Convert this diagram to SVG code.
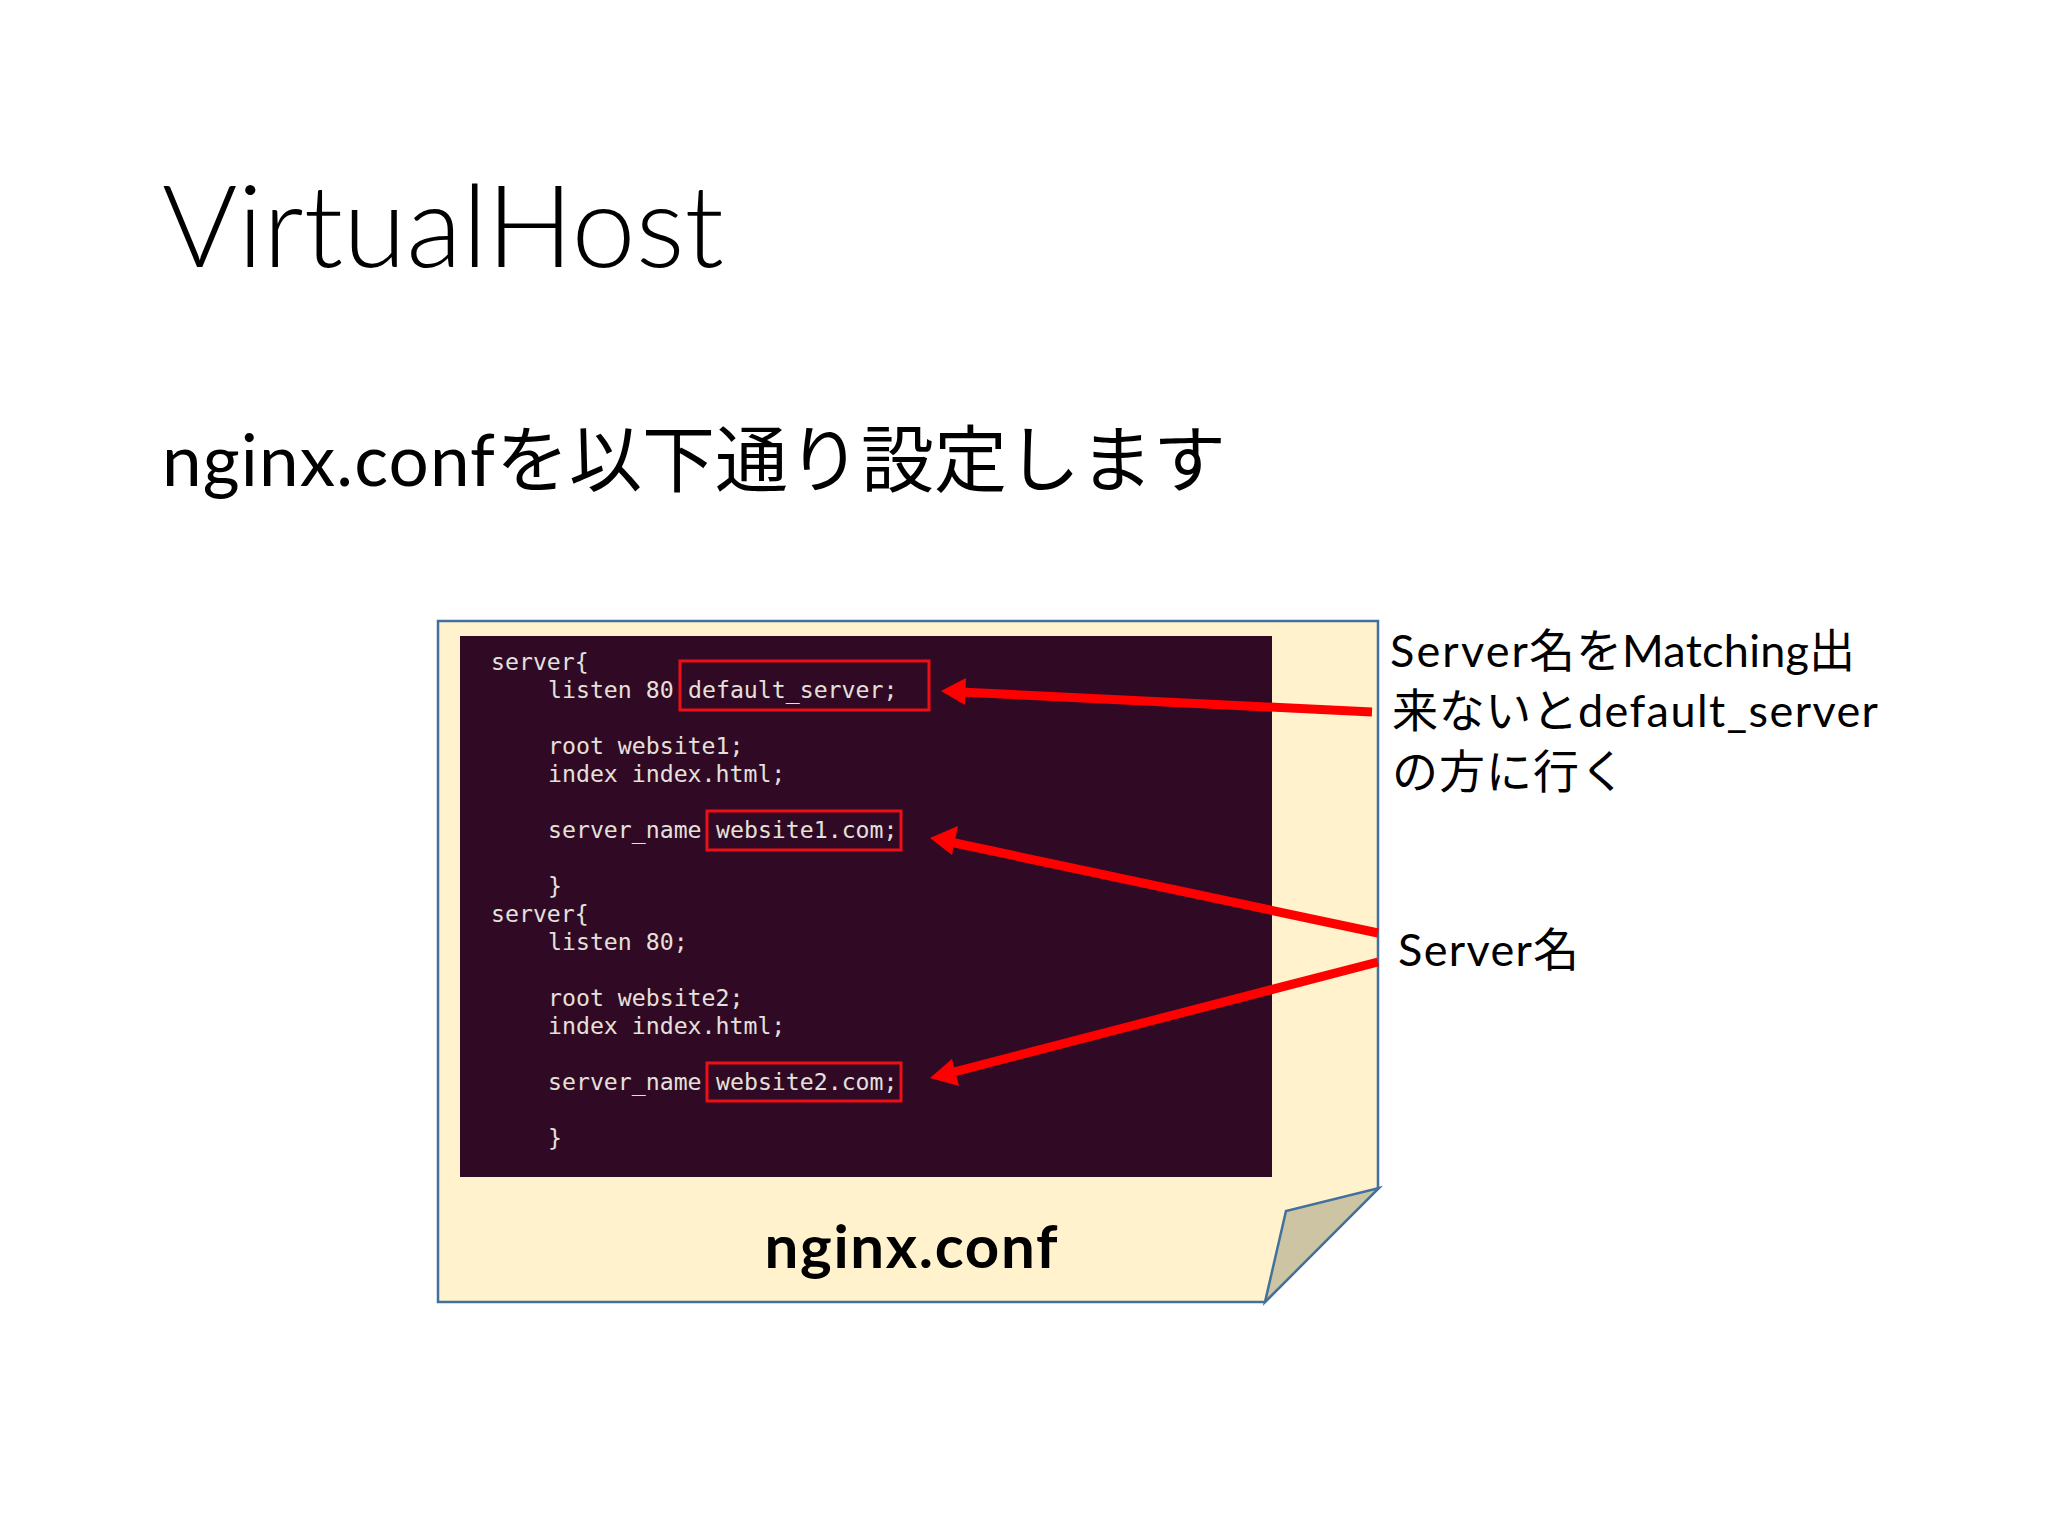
<svg xmlns="http://www.w3.org/2000/svg" width="2048" height="1536" viewBox="0 0 2048 1536">
<style>
.t{font-family:"Lato","Noto Sans CJK JP",sans-serif;fill:#000}
.j{font-family:"Noto Sans CJK JP",sans-serif}
.c{font-family:"DejaVu Sans Mono",monospace;font-size:23.2px;fill:#e4e0dc}
.b{fill:none;stroke:#ee0f16;stroke-width:3}
.a{stroke:#f00;stroke-width:9;fill:none}
.h{fill:#f00}
</style>
<rect width="2048" height="1536" fill="#fff"/>
<text class="t" x="162" y="267" font-size="115" font-weight="300" textLength="562">VirtualHost</text>
<text class="t" y="486" font-size="71"><tspan x="162" textLength="333">nginx.conf</tspan><tspan class="j" x="496" font-size="73" textLength="730">を以下通り設定します</tspan></text>
<g id="note">
<path d="M438 621H1378V1188L1265 1302H438Z" fill="#fff2cc" stroke="#41719c" stroke-width="2.5"/>
<path d="M1265 1302L1286 1211L1379 1188Z" fill="#cdc4a3" stroke="#41719c" stroke-width="2.5"/>
<text class="t" x="911" y="1268" text-anchor="middle" font-size="60" font-weight="700" textLength="293">nginx.conf</text>
</g>
<g id="terminal">
<rect x="460" y="636" width="812" height="541" fill="#300a24"/>
<text class="c" x="491" y="670">server{</text>
<text class="c" x="548" y="698">listen 80</text>
<text class="c" x="688" y="698">default_server;</text>
<text class="c" x="548" y="754">root website1;</text>
<text class="c" x="548" y="782">index index.html;</text>
<text class="c" x="548" y="838">server_name</text>
<text class="c" x="716" y="838">website1.com;</text>
<text class="c" x="548" y="894">}</text>
<text class="c" x="491" y="922">server{</text>
<text class="c" x="548" y="950">listen 80;</text>
<text class="c" x="548" y="1006">root website2;</text>
<text class="c" x="548" y="1034">index index.html;</text>
<text class="c" x="548" y="1090">server_name</text>
<text class="c" x="716" y="1090">website2.com;</text>
<text class="c" x="548" y="1146">}</text>
<rect class="b" x="680" y="661" width="249" height="49"/>
<rect class="b" x="707" y="811" width="194" height="39"/>
<rect class="b" x="707" y="1063" width="194" height="38"/>
</g>
<g id="connectors">
<path class="a" d="M1372 712L960 692"/><path class="h" d="M941 691L966 678L965 705Z"/>
<path class="a" d="M1378 933L950 842"/><path class="h" d="M930 838L958 826L952 855Z"/>
<path class="a" d="M1378 962L950 1073"/><path class="h" d="M930 1078L952 1059L959 1086Z"/>
</g>
<g id="labels" font-size="45">
<text class="t" y="667"><tspan x="1390" textLength="138">Server</tspan><tspan class="j" x="1529" font-size="46" textLength="93">名を</tspan><tspan x="1622" textLength="187">Matching</tspan><tspan class="j" x="1809" font-size="46" textLength="47">出</tspan></text>
<text class="t" y="727"><tspan class="j" x="1392" font-size="46" textLength="186">来ないと</tspan><tspan x="1578" textLength="300">default_server</tspan></text>
<text class="t" y="788"><tspan class="j" x="1392" font-size="46" textLength="234">の方に行く</tspan></text>
<text class="t" y="966"><tspan x="1398" textLength="134">Server</tspan><tspan class="j" x="1533" font-size="46" textLength="47">名</tspan></text>
</g>
</svg>
